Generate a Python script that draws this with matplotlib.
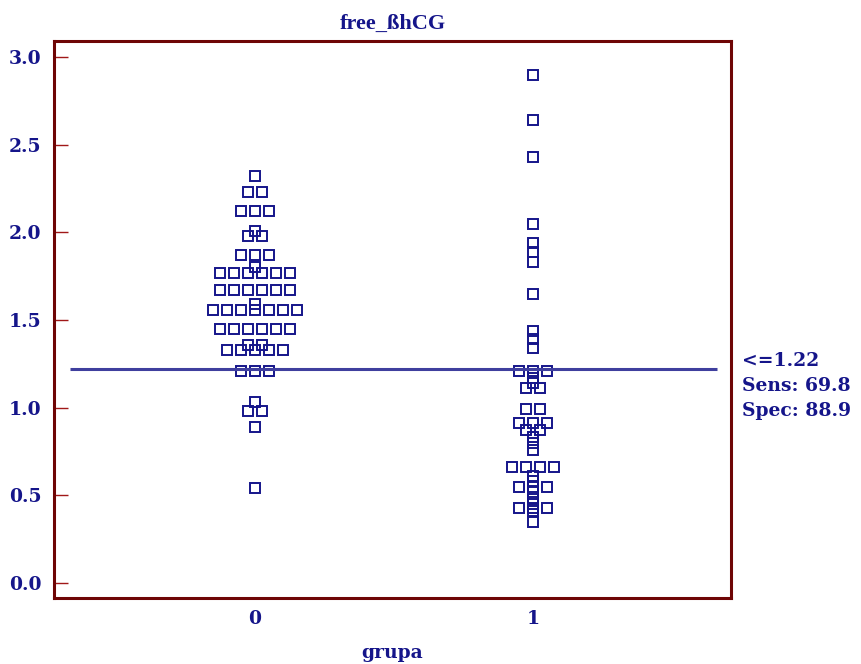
import matplotlib
matplotlib.use("Agg")
import matplotlib.pyplot as plt
import matplotlib.transforms as mtransforms
from collections import Counter

# Observed free beta-hCG values per group
group_labels = ["0", "1"]
grupa_0 = [2.32, 2.23, 2.23, 2.12, 2.12, 2.12, 2.01, 1.98, 1.98,
           1.87, 1.87, 1.87, 1.80, 1.77, 1.77, 1.77, 1.77, 1.77, 1.77,
           1.67, 1.67, 1.67, 1.67, 1.67, 1.67, 1.59,
           1.56, 1.56, 1.56, 1.56, 1.56, 1.56, 1.56,
           1.45, 1.45, 1.45, 1.45, 1.45, 1.45, 1.36, 1.36,
           1.33, 1.33, 1.33, 1.33, 1.33, 1.21, 1.21, 1.21,
           1.03, 0.98, 0.98, 0.89, 0.54]
grupa_1 = [2.90, 2.64, 2.43, 2.05, 1.94, 1.89, 1.83, 1.65, 1.44, 1.39, 1.34,
           1.21, 1.21, 1.21, 1.17, 1.14, 1.11, 1.11, 0.99, 0.99,
           0.91, 0.91, 0.91, 0.87, 0.87, 0.83, 0.80, 0.76,
           0.66, 0.66, 0.66, 0.66, 0.61, 0.58, 0.55, 0.55, 0.55,
           0.52, 0.48, 0.45, 0.43, 0.43, 0.43, 0.41, 0.35]
groups = [grupa_0, grupa_1]

cutoff = 1.22
sens = 69.8
spec = 88.9

y_ticks = [0.0, 0.5, 1.0, 1.5, 2.0, 2.5, 3.0]

NAVY = "#15158a"
MAROON = "#6e0505"
LINE = "#3f3f9e"
FONT = "DejaVu Serif"
FS = 13.5

fig = plt.figure(figsize=(8.61, 6.64), dpi=100)
ax = fig.add_axes([0.0627, 0.0994, 0.7863, 0.8389])

step = 0.0504  # horizontal spacing between tied values
for gi, vals in enumerate(groups):
    counts = Counter(vals)
    seen = Counter()
    xs = []
    for v in vals:
        n = counts[v]
        k = seen[v]
        seen[v] += 1
        xs.append(gi + (k - (n - 1) / 2) * step)
    ax.plot(xs, vals, linestyle="none", marker="s", markersize=7.8,
            markerfacecolor="none", markeredgecolor=NAVY,
            markeredgewidth=1.4)

ax.hlines(cutoff, -0.665, 1.662, color=LINE, linewidth=2.2, zorder=3)

ax.set_xlim(-0.723, 1.712)
ax.set_ylim(-0.0856, 3.092)
ax.set_xticks([0, 1])
ax.set_xticklabels(group_labels)
ax.set_yticks(y_ticks)
ax.set_yticklabels([f"{t:.1f}" for t in y_ticks])

ax.tick_params(axis="y", direction="in", length=10, width=1.0,
               color="#a01818", pad=9)
ax.tick_params(axis="x", length=0, pad=9)
for lab in ax.get_xticklabels() + ax.get_yticklabels():
    lab.set_fontfamily(FONT)
    lab.set_fontweight("bold")
    lab.set_fontsize(FS)
    lab.set_color(NAVY)

for sp in ax.spines.values():
    sp.set_color(MAROON)
    sp.set_linewidth(2.2)

ax.set_xlabel("grupa", fontfamily=FONT, fontweight="bold", fontsize=FS,
              color=NAVY, labelpad=11)
ax.set_title("free_ßhCG", fontfamily="Liberation Serif", fontweight="bold",
             fontsize=16, color=NAVY, pad=9)

trans = mtransforms.blended_transform_factory(ax.transAxes, ax.transData)
ax.text(1.017, 1.318, f"<={cutoff:.2f}\nSens: {sens:.1f}\nSpec: {spec:.1f}",
        transform=trans, ha="left", va="top", fontfamily=FONT,
        fontweight="bold", fontsize=FS, color=NAVY, linespacing=1.5,
        clip_on=False)

fig.savefig("out.png", dpi=100)
